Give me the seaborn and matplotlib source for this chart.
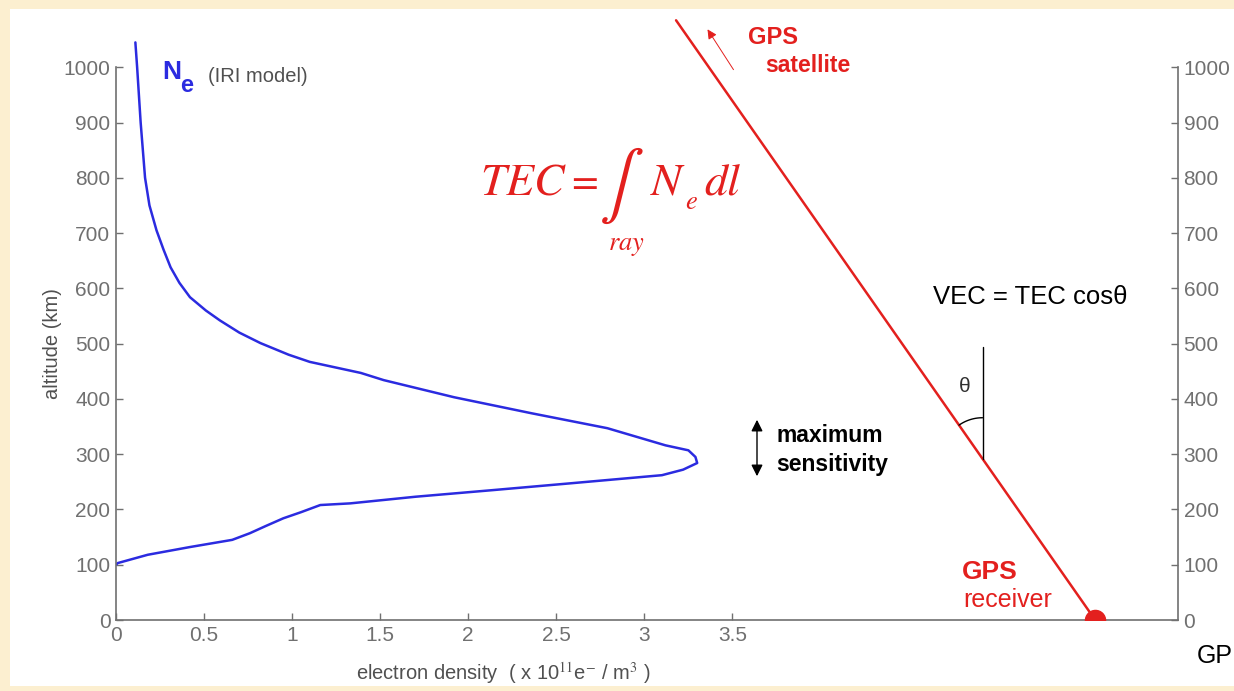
import matplotlib
matplotlib.use("Agg")
import matplotlib.pyplot as plt
from matplotlib.patches import Rectangle
import numpy as np
import pandas as pd
import seaborn as sns

# electron density profile (IRI model), x 10^11 e-/m^3 vs altitude km
density = [0.11, 0.12, 0.14, 0.165, 0.19, 0.23, 0.27, 0.31, 0.36, 0.42, 0.51, 0.59, 0.70,
           0.82, 0.98, 1.10, 1.39, 1.52, 1.92, 2.36, 2.79, 3.12, 3.25, 3.29, 3.30, 3.22,
           3.10, 2.57, 2.14, 1.70, 1.33, 1.16, 1.05, 0.95, 0.85, 0.76, 0.66, 0.42, 0.18,
           0.01, 0.0]
altitude = [1045, 1000, 900, 800, 750, 705, 670, 638, 610, 584, 560, 542, 520,
            501, 480, 467, 447, 434, 403, 374, 347, 316, 307, 295, 284, 272,
            262, 247, 235, 223, 211, 208, 195, 184, 170, 157, 145, 132, 118,
            103, 100]

# GPS ray: satellite end -> receiver
ray_x = [3.18, 5.56]
ray_alt = [1085, 0]
zenith_x = 4.92
zenith_top = 494

x_ticks = [0, 0.5, 1, 1.5, 2, 2.5, 3, 3.5]
x_tick_labels = ["0", "0.5", "1", "1.5", "2", "2.5", "3", "3.5"]
y_ticks = [0, 100, 200, 300, 400, 500, 600, 700, 800, 900, 1000]

W, H = 1234, 691
BLUE = "#2b2be0"
RED = "#e3201e"
GREY = "#707070"
SANS = ["Liberation Sans", "DejaVu Sans"]

sns.set_style("white")
plt.rcParams["font.family"] = SANS
plt.rcParams["mathtext.fontset"] = "stix"

fig = plt.figure(figsize=(W / 100, H / 100), dpi=100, facecolor="#fcefd0")
fig.patches.append(Rectangle((10 / W, 5 / H), 1, 1 - 14 / H, transform=fig.transFigure,
                             facecolor="white", edgecolor="none", zorder=-10))


def px(x, y):
    return x / W, 1 - y / H


ax = fig.add_axes([116 / W, 71 / H, (1178 - 116) / W, (620 - 12) / H])
ax.set_facecolor("none")

profile = pd.DataFrame({"density": density, "altitude": altitude})
sns.lineplot(data=profile, x="density", y="altitude", sort=False, estimator=None,
             color=BLUE, lw=1.8, ax=ax)
sns.lineplot(x=ray_x, y=ray_alt, sort=False, estimator=None, color=RED, lw=1.8, ax=ax)
ax.scatter([ray_x[1]], [ray_alt[1]], s=210, color=RED, zorder=5, clip_on=True)

ax.set_xlim(0, 6.03)
ax.set_ylim(0, 1100)
ax.set_xticks(x_ticks)
ax.set_xticklabels(x_tick_labels)
ax.set_yticks(y_ticks)
ax.set_xlabel("")
ax.set_ylabel("")
ax.tick_params(axis="both", direction="in", length=5, width=1, color=GREY,
               labelsize=15, labelcolor=GREY, left=True, bottom=True, right=True,
               labelright=True, pad=4)
for side in ["left", "bottom", "right"]:
    ax.spines[side].set_color(GREY)
    ax.spines[side].set_linewidth(1.2)
ax.spines["top"].set_visible(False)
ax.spines["left"].set_bounds(0, 1000)
ax.spines["right"].set_bounds(0, 1000)

# zenith reference and angle theta (arc drawn in pixel space, mapped to data)
slope = (ray_alt[0] - ray_alt[1]) / (ray_x[0] - ray_x[1])
cross_alt = ray_alt[1] + slope * (zenith_x - ray_x[1])
ax.plot([zenith_x, zenith_x], [cross_alt, zenith_top], color="black", lw=1)
sx = 1062 / 6.03
sy = 608 / 1100
ang = np.degrees(np.arctan2(-slope * sy, -sx))
t = np.radians(np.linspace(90, ang, 30))
r = 41
ax.plot(zenith_x + r * np.cos(t) / sx, cross_alt + r * np.sin(t) / sy, color="black", lw=1)

# texts
fig.text(*px(162, 72), "N", color=BLUE, fontsize=19, fontweight="bold", va="center")
fig.text(*px(180, 85), "e", color=BLUE, fontsize=17, fontweight="bold", va="center")
fig.text(*px(208, 77), "(IRI model)", color="#505050", fontsize=14.5, va="center")

fig.text(*px(480, 182), r"$TEC$", color=RED, fontsize=33, va="center")
fig.text(*px(566, 182), r"$=$", color=RED, fontsize=28, va="center")
fig.text(*px(621, 186), r"$\int$", color=RED, fontsize=48, va="center", ha="center")
fig.text(*px(650, 182), r"$N$", color=RED, fontsize=33, va="center")
fig.text(*px(685, 202), r"$e$", color=RED, fontsize=19, va="center")
fig.text(*px(704, 182), r"$dl$", color=RED, fontsize=33, va="center")
fig.text(*px(626, 246), r"$ray$", color=RED, fontsize=19, va="center", ha="center")

fig.text(*px(748, 37), "GPS", color=RED, fontsize=17, fontweight="bold", va="center")
fig.text(*px(765, 66), "satellite", color=RED, fontsize=16.5, fontweight="bold", va="center")
ax.annotate("", xy=px(706, 27), xytext=px(735, 72), xycoords="figure fraction",
            arrowprops=dict(arrowstyle="-|>", color=RED, lw=0.7, mutation_scale=14))

fig.text(*px(933, 297), "VEC = TEC cos\u03b8", color="black", fontsize=18.5, va="center")
fig.text(*px(965, 387), "\u03b8", color="#303030", fontsize=15, va="center", ha="center")

ax.annotate("", xy=px(757, 417), xytext=px(757, 479), xycoords="figure fraction",
            arrowprops=dict(arrowstyle="<|-|>", color="black", lw=1, mutation_scale=17))
fig.text(*px(776, 436), "maximum", color="black", fontsize=16.5, fontweight="bold", va="center")
fig.text(*px(776, 465), "sensitivity", color="black", fontsize=16.5, fontweight="bold", va="center")

fig.text(*px(962, 572), "GPS", color=RED, fontsize=19, fontweight="bold", va="center")
fig.text(*px(963, 600), "receiver", color=RED, fontsize=18, va="center")

fig.text(*px(1197, 656), "GP", color="black", fontsize=18, va="center")

fig.text(*px(503, 673), r"electron density  ( x 10$^{11}$e$^{-}$ / m$^{3}$ )", color="#505050",
         fontsize=14.5, ha="center", va="center")
fig.text(*px(52, 344), "altitude (km)", color="#505050", fontsize=14.5, rotation=90,
         ha="center", va="center")

fig.savefig("out.png", dpi=100, facecolor=fig.get_facecolor())
